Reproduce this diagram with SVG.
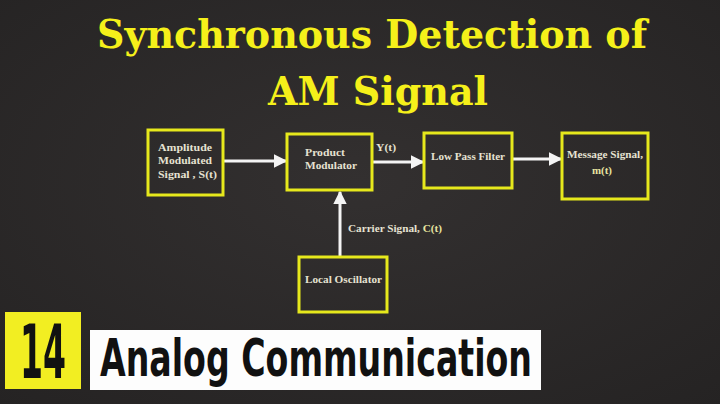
<svg xmlns="http://www.w3.org/2000/svg" width="720" height="404" viewBox="0 0 720 404">
<defs>
<radialGradient id="bg" cx="50%" cy="45%" r="75%">
<stop offset="0" stop-color="#333030"/>
<stop offset="1" stop-color="#252323"/>
</radialGradient>
<marker id="ah" viewBox="0 0 10 10" refX="9" refY="5" markerWidth="4.5" markerHeight="4.5" orient="auto" markerUnits="strokeWidth">
<path d="M0,0 L10,5 L0,10 Z" fill="#f4f4f4"/>
</marker>
<style>
.box{fill:none;stroke:#e6e81c;stroke-width:3}
.lbl{font-family:"Liberation Serif","DejaVu Serif",serif;font-weight:bold;font-size:11px;fill:#e6e2d2}
.yl{fill:#e8e4a0}
.title{font-family:"DejaVu Serif",serif;font-weight:bold;font-size:40px;fill:#f5f01a}
.con{stroke:#f4f4f4;stroke-width:3;fill:none;marker-end:url(#ah)}
.ban{font-family:"DejaVu Sans Condensed","DejaVu Sans",sans-serif;font-weight:bold;fill:#111}
</style>
</defs>
<rect width="720" height="404" fill="url(#bg)"/>
<g id="title">
<text class="title" x="372" y="48" text-anchor="middle" textLength="550" lengthAdjust="spacingAndGlyphs">Synchronous Detection of</text>
<text class="title" x="378" y="105" text-anchor="middle" textLength="220" lengthAdjust="spacingAndGlyphs">AM Signal</text>
</g>
<g id="connectors">
<line class="con" x1="224" y1="161" x2="286" y2="161"/>
<line class="con" x1="373" y1="162" x2="423" y2="162"/>
<line class="con" x1="513" y1="159" x2="561" y2="159"/>
<line class="con" x1="340" y1="257" x2="340" y2="192"/>
<text class="lbl" x="376" y="151" textLength="20" lengthAdjust="spacingAndGlyphs">Y(t)</text>
<text class="lbl" x="348" y="232" textLength="94" lengthAdjust="spacingAndGlyphs">Carrier Signal, <tspan class="yl">C(t)</tspan></text>
</g>
<g id="node-am">
<rect class="box" x="148" y="130" width="75" height="65"/>
<text class="lbl" x="158" y="151" textLength="54" lengthAdjust="spacingAndGlyphs">Amplitude</text>
<text class="lbl" x="158" y="164" textLength="54" lengthAdjust="spacingAndGlyphs">Modulated</text>
<text class="lbl" x="158" y="178" textLength="59" lengthAdjust="spacingAndGlyphs">Signal , S(t)</text>
</g>
<g id="node-pm">
<rect class="box" x="287" y="134" width="85" height="56"/>
<text class="lbl" x="305" y="156" textLength="40" lengthAdjust="spacingAndGlyphs">Product</text>
<text class="lbl" x="305" y="169" textLength="52" lengthAdjust="spacingAndGlyphs">Modulator</text>
</g>
<g id="node-lpf">
<rect class="box" x="424" y="133" width="88" height="55"/>
<text class="lbl" x="431" y="160" textLength="74" lengthAdjust="spacingAndGlyphs">Low Pass Filter</text>
</g>
<g id="node-msg">
<rect class="box" x="562" y="133" width="86" height="66"/>
<text class="lbl" x="567" y="158" textLength="76" lengthAdjust="spacingAndGlyphs">Message Signal,</text>
<text class="lbl yl" x="602" y="174" text-anchor="middle" textLength="20" lengthAdjust="spacingAndGlyphs">m(t)</text>
</g>
<g id="node-lo">
<rect class="box" x="299" y="257" width="88" height="55"/>
<text class="lbl" x="305" y="283" textLength="77" lengthAdjust="spacingAndGlyphs">Local Oscillator</text>
</g>
<g id="banner">
<rect x="5" y="312" width="76" height="77" fill="#f2ee22"/>
<text class="ban" x="43" y="378" text-anchor="middle" font-size="74" textLength="46" lengthAdjust="spacingAndGlyphs">14</text>
<rect x="90" y="330" width="451" height="60" fill="#fdfdfd"/>
<text class="ban" x="100" y="376" font-size="52" textLength="432" lengthAdjust="spacingAndGlyphs">Analog Communication</text>
</g>
</svg>
